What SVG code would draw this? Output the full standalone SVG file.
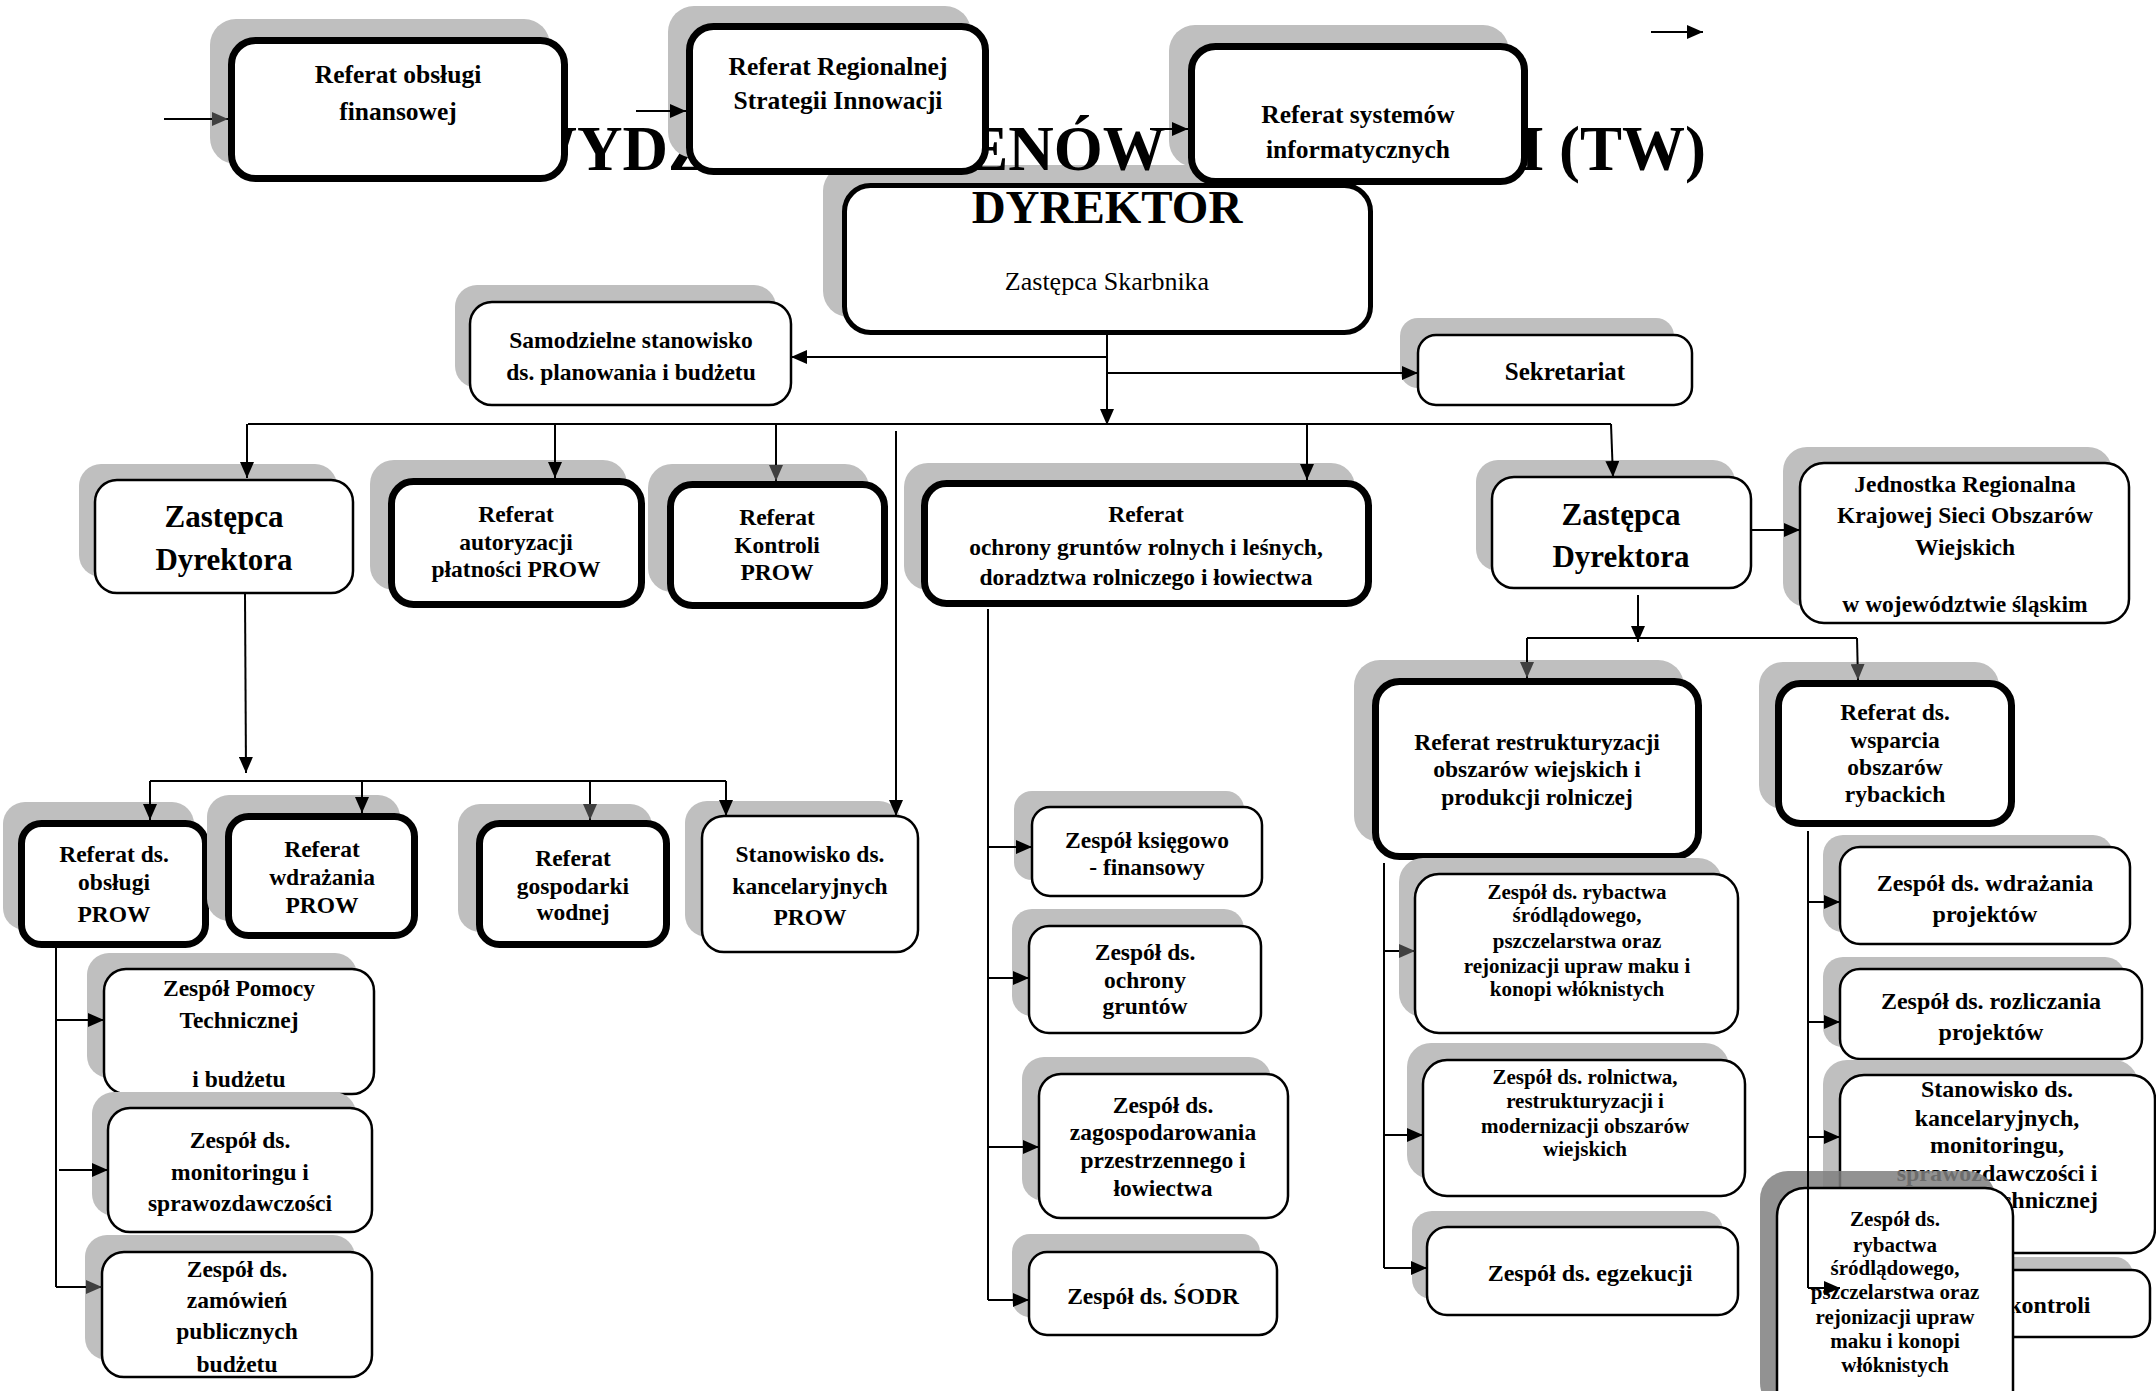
<svg xmlns="http://www.w3.org/2000/svg" width="2156" height="1391" viewBox="0 0 2156 1391">
<defs>
<style>
.sh{fill:#bfbfbf}
.sh2{fill:#7f7f7f;opacity:0.85}
.bx{fill:#fff;stroke:#000;stroke-width:2.5}
.k{stroke-width:7}
.t{font-family:"Liberation Serif","Times New Roman",serif;font-weight:bold;text-anchor:middle;fill:#000}
.n{font-weight:normal}
.c{stroke:#000;stroke-width:2;fill:none}
.ca{stroke:#000;stroke-width:2;fill:none;marker-end:url(#ah)}
.cg{stroke:#000;stroke-width:2;fill:none;marker-end:url(#ahg)}
</style>
<marker id="ah" markerUnits="userSpaceOnUse" markerWidth="16" markerHeight="14" refX="16" refY="7" orient="auto"><path d="M0,0 L16,7 L0,14 z" fill="#000"/></marker>
<marker id="ahg" markerUnits="userSpaceOnUse" markerWidth="16" markerHeight="14" refX="16" refY="7" orient="auto"><path d="M0,0 L16,7 L0,14 z" fill="#404040"/></marker>
</defs>
<rect width="2156" height="1391" fill="#fff"/>

<g id="n-dyrektor">
<rect class="sh" x="823" y="165" width="531" height="152" rx="26"/>
<rect class="bx" style="stroke-width:5" x="844.5" y="185.5" width="526" height="147" rx="26"/>
<text class="t" font-size="47"><tspan x="1107" y="223">DYREKTOR</tspan></text>
<text class="t n" font-size="26"><tspan x="1107" y="290">Zastępca Skarbnika</tspan></text>
</g>

<text id="title" class="t" font-size="63" x="1706" y="170" style="text-anchor:end">WYDZIAŁ TERENÓW WIEJSKICH (TW)</text>

<g id="n-refFin">
<rect class="sh" x="210" y="19" width="340" height="145" rx="26"/>
<rect class="bx k" x="231.5" y="40.5" width="333" height="138" rx="24"/>
<text class="t" font-size="25.5"><tspan x="398" y="83">Referat obsługi</tspan><tspan x="398" y="120">finansowej</tspan></text>
</g>
<g id="n-refRSI">
<rect class="sh" x="668" y="6" width="303" height="152" rx="26"/>
<rect class="bx k" x="689.5" y="26.5" width="296" height="145" rx="24"/>
<text class="t" font-size="25.5"><tspan x="838" y="75">Referat  Regionalnej</tspan><tspan x="838" y="109">Strategii Innowacji</tspan></text>
</g>
<g id="n-refSys">
<rect class="sh" x="1169" y="25" width="340" height="142" rx="26"/>
<rect class="bx k" x="1191.5" y="46.5" width="333" height="135" rx="24"/>
<text class="t" font-size="25.5"><tspan x="1358" y="123">Referat systemów</tspan><tspan x="1358" y="158">informatycznych</tspan></text>
</g>

<g id="n-samodz">
<rect class="sh" x="455" y="285" width="321" height="103" rx="22"/>
<rect class="bx" x="470" y="302" width="321" height="103" rx="22"/>
<text class="t" font-size="23.5"><tspan x="631" y="348">Samodzielne stanowisko</tspan><tspan x="631" y="380">ds. planowania i budżetu</tspan></text>
</g>
<g id="n-sekret">
<rect class="sh" x="1400" y="318" width="274" height="70" rx="18"/>
<rect class="bx" x="1418" y="335" width="274" height="70" rx="18"/>
<text class="t" font-size="25"><tspan x="1565" y="380">Sekretariat</tspan></text>
</g>

<g id="n-zastL">
<rect class="sh" x="79" y="464" width="258" height="113" rx="22"/>
<rect class="bx" x="95" y="480" width="258" height="113" rx="22"/>
<text class="t" font-size="31"><tspan x="224" y="527">Zastępca</tspan><tspan x="224" y="570">Dyrektora</tspan></text>
</g>
<g id="n-refAut">
<rect class="sh" x="370" y="460" width="257" height="130" rx="24"/>
<rect class="bx k" x="391.5" y="481.5" width="250" height="123" rx="22"/>
<text class="t" font-size="23.5"><tspan x="516" y="522">Referat</tspan><tspan x="516" y="550">autoryzacji</tspan><tspan x="516" y="577">płatności PROW</tspan></text>
</g>
<g id="n-refKon">
<rect class="sh" x="648" y="464" width="221" height="128" rx="24"/>
<rect class="bx k" x="670.5" y="484.5" width="214" height="121" rx="22"/>
<text class="t" font-size="23.5"><tspan x="777" y="525">Referat</tspan><tspan x="777" y="553">Kontroli</tspan><tspan x="777" y="580">PROW</tspan></text>
</g>
<g id="n-refOchr">
<rect class="sh" x="904" y="463" width="451" height="127" rx="24"/>
<rect class="bx k" x="924.5" y="483.5" width="444" height="120" rx="22"/>
<text class="t" font-size="23.5"><tspan x="1146" y="522">Referat</tspan><tspan x="1146" y="555">ochrony gruntów rolnych i leśnych,</tspan><tspan x="1146" y="585">doradztwa rolniczego i łowiectwa</tspan></text>
</g>
<g id="n-zastR">
<rect class="sh" x="1476" y="460" width="259" height="111" rx="22"/>
<rect class="bx" x="1492" y="477" width="259" height="111" rx="22"/>
<text class="t" font-size="31"><tspan x="1621" y="525">Zastępca</tspan><tspan x="1621" y="567">Dyrektora</tspan></text>
</g>
<g id="n-jedn">
<rect class="sh" x="1783" y="447" width="329" height="160" rx="24"/>
<rect class="bx" x="1800" y="463" width="329" height="160" rx="24"/>
<text class="t" font-size="23.5"><tspan x="1965" y="492">Jednostka Regionalna</tspan><tspan x="1965" y="523">Krajowej Sieci Obszarów</tspan><tspan x="1965" y="555">Wiejskich</tspan><tspan x="1965" y="612">w województwie  śląskim</tspan></text>
</g>
<g id="n-refRestr">
<rect class="sh" x="1354" y="660" width="330" height="182" rx="26"/>
<rect class="bx k" x="1375.5" y="681.5" width="323" height="175" rx="24"/>
<text class="t" font-size="23.5"><tspan x="1537" y="750">Referat restrukturyzacji</tspan><tspan x="1537" y="777">obszarów wiejskich i</tspan><tspan x="1537" y="805">produkcji  rolniczej</tspan></text>
</g>
<g id="n-refRyb">
<rect class="sh" x="1759" y="662" width="240" height="147" rx="24"/>
<rect class="bx k" x="1778.5" y="683.5" width="233" height="140" rx="22"/>
<text class="t" font-size="23.5"><tspan x="1895" y="720">Referat ds.</tspan><tspan x="1895" y="748">wsparcia</tspan><tspan x="1895" y="775">obszarów</tspan><tspan x="1895" y="802">rybackich</tspan></text>
</g>

<g id="n-refObsP">
<rect class="sh" x="3" y="802" width="191" height="128" rx="22"/>
<rect class="bx k" x="21.5" y="823.5" width="184" height="121" rx="20"/>
<text class="t" font-size="23.5"><tspan x="114" y="862">Referat ds.</tspan><tspan x="114" y="890">obsługi</tspan><tspan x="114" y="922">PROW</tspan></text>
</g>
<g id="n-refWdr">
<rect class="sh" x="207" y="795" width="193" height="126" rx="22"/>
<rect class="bx k" x="228.5" y="816.5" width="186" height="119" rx="20"/>
<text class="t" font-size="23.5"><tspan x="322" y="857">Referat</tspan><tspan x="322" y="885">wdrażania</tspan><tspan x="322" y="913">PROW</tspan></text>
</g>
<g id="n-refGosp">
<rect class="sh" x="458" y="804" width="194" height="128" rx="22"/>
<rect class="bx k" x="479.5" y="823.5" width="187" height="121" rx="20"/>
<text class="t" font-size="23.5"><tspan x="573" y="866">Referat</tspan><tspan x="573" y="894">gospodarki</tspan><tspan x="573" y="920">wodnej</tspan></text>
</g>
<g id="n-stanPROW">
<rect class="sh" x="685" y="801" width="216" height="136" rx="22"/>
<rect class="bx" x="702" y="816" width="216" height="136" rx="22"/>
<text class="t" font-size="23.5"><tspan x="810" y="862">Stanowisko ds.</tspan><tspan x="810" y="894">kancelaryjnych</tspan><tspan x="810" y="925">PROW</tspan></text>
</g>

<g id="n-zPom">
<rect class="sh" x="87" y="953" width="270" height="125" rx="22"/>
<rect class="bx" x="104" y="969" width="270" height="125" rx="22"/>
<text class="t" font-size="23.5"><tspan x="239" y="996">Zespół  Pomocy</tspan><tspan x="239" y="1028">Technicznej</tspan><tspan x="239" y="1087">i budżetu</tspan></text>
</g>
<g id="n-zMon">
<rect class="sh" x="92" y="1092" width="264" height="124" rx="22"/>
<rect class="bx" x="108" y="1108" width="264" height="124" rx="22"/>
<text class="t" font-size="23.5"><tspan x="240" y="1148">Zespół ds.</tspan><tspan x="240" y="1180">monitoringu i</tspan><tspan x="240" y="1211">sprawozdawczości</tspan></text>
</g>
<g id="n-zZam">
<rect class="sh" x="85" y="1235" width="270" height="125" rx="22"/>
<rect class="bx" x="102" y="1252" width="270" height="125" rx="22"/>
<text class="t" font-size="23.5"><tspan x="237" y="1277">Zespół  ds.</tspan><tspan x="237" y="1308">zamówień</tspan><tspan x="237" y="1339">publicznych</tspan><tspan x="237" y="1372">budżetu</tspan></text>
</g>

<g id="n-zKsi">
<rect class="sh" x="1014" y="791" width="230" height="89" rx="18"/>
<rect class="bx" x="1032" y="807" width="230" height="89" rx="18"/>
<text class="t" font-size="23.5"><tspan x="1147" y="848">Zespół księgowo</tspan><tspan x="1147" y="875">- finansowy</tspan></text>
</g>
<g id="n-zOch">
<rect class="sh" x="1012" y="909" width="232" height="107" rx="20"/>
<rect class="bx" x="1029" y="926" width="232" height="107" rx="20"/>
<text class="t" font-size="23.5"><tspan x="1145" y="960">Zespół ds.</tspan><tspan x="1145" y="988">ochrony</tspan><tspan x="1145" y="1014">gruntów</tspan></text>
</g>
<g id="n-zZag">
<rect class="sh" x="1022" y="1057" width="249" height="144" rx="22"/>
<rect class="bx" x="1039" y="1074" width="249" height="144" rx="22"/>
<text class="t" font-size="23.5"><tspan x="1163" y="1113">Zespół ds.</tspan><tspan x="1163" y="1140">zagospodarowania</tspan><tspan x="1163" y="1168">przestrzennego i</tspan><tspan x="1163" y="1196">łowiectwa</tspan></text>
</g>
<g id="n-zSodr">
<rect class="sh" x="1012" y="1234" width="248" height="83" rx="18"/>
<rect class="bx" x="1029" y="1252" width="248" height="83" rx="18"/>
<text class="t" font-size="23.5"><tspan x="1153" y="1304">Zespół ds.  ŚODR</tspan></text>
</g>

<g id="n-zRyb">
<rect class="sh" x="1399" y="858" width="323" height="159" rx="24"/>
<rect class="bx" x="1415" y="874" width="323" height="159" rx="24"/>
<text class="t" font-size="21"><tspan x="1577" y="899">Zespół ds. rybactwa</tspan><tspan x="1577" y="922">śródlądowego,</tspan><tspan x="1577" y="948">pszczelarstwa oraz</tspan><tspan x="1577" y="973">rejonizacji upraw maku i</tspan><tspan x="1577" y="996">konopi włóknistych</tspan></text>
</g>
<g id="n-zRol">
<rect class="sh" x="1407" y="1043" width="322" height="136" rx="24"/>
<rect class="bx" x="1423" y="1060" width="322" height="136" rx="24"/>
<text class="t" font-size="21"><tspan x="1585" y="1084">Zespół ds. rolnictwa,</tspan><tspan x="1585" y="1108">restrukturyzacji i</tspan><tspan x="1585" y="1133">modernizacji obszarów</tspan><tspan x="1585" y="1156">wiejskich</tspan></text>
</g>
<g id="n-zEgz">
<rect class="sh" x="1412" y="1211" width="311" height="88" rx="20"/>
<rect class="bx" x="1427" y="1227" width="311" height="88" rx="20"/>
<text class="t" font-size="24"><tspan x="1590" y="1281">Zespół ds. egzekucji</tspan></text>
</g>

<g id="n-zWdrP">
<rect class="sh" x="1823" y="835" width="290" height="97" rx="20"/>
<rect class="bx" x="1840" y="847" width="290" height="97" rx="20"/>
<text class="t" font-size="24"><tspan x="1985" y="891">Zespół ds. wdrażania</tspan><tspan x="1985" y="922">projektów</tspan></text>
</g>
<g id="n-zRozl">
<rect class="sh" x="1823" y="957" width="302" height="90" rx="20"/>
<rect class="bx" x="1840" y="969" width="302" height="90" rx="20"/>
<text class="t" font-size="24"><tspan x="1991" y="1009">Zespół ds. rozliczania</tspan><tspan x="1991" y="1040">projektów</tspan></text>
</g>
<g id="n-stanKanc">
<rect class="sh" x="1823" y="1060" width="315" height="178" rx="24"/>
<rect class="bx" x="1840" y="1075" width="315" height="178" rx="24"/>
<text class="t" font-size="24"><tspan x="1997" y="1097">Stanowisko ds.</tspan><tspan x="1997" y="1126">kancelaryjnych,</tspan><tspan x="1997" y="1153">monitoringu,</tspan><tspan x="1997" y="1181">sprawozdawczości i</tspan><tspan x="1997" y="1208">pomocy technicznej</tspan></text>
</g>
<g id="n-zKontr">
<rect class="sh" x="1823" y="1257" width="310" height="67" rx="18"/>
<rect class="bx" x="1840" y="1270" width="310" height="67" rx="18"/>
<text class="t" font-size="24"><tspan x="1995" y="1313">Zespół ds. kontroli</tspan></text>
</g>
<g id="n-zRyb2">
<rect class="sh2" x="1760" y="1171" width="236" height="240" rx="28"/>
<rect class="bx" x="1777" y="1188" width="236" height="240" rx="28"/>
<text class="t" font-size="21"><tspan x="1895" y="1226">Zespół ds.</tspan><tspan x="1895" y="1252">rybactwa</tspan><tspan x="1895" y="1275">śródlądowego,</tspan><tspan x="1895" y="1299">pszczelarstwa oraz</tspan><tspan x="1895" y="1324">rejonizacji upraw</tspan><tspan x="1895" y="1348">maku i konopi</tspan><tspan x="1895" y="1372">włóknistych</tspan></text>
</g>

<g id="connectors">
<path class="cg" d="M164,119 H228"/>
<path class="ca" d="M636,111 H686"/>
<path class="ca" d="M1150,129 H1188"/>
<path class="ca" d="M1651,32 H1703"/>
<path class="ca" d="M1107,335 V425"/>
<path class="ca" d="M1107,357 H791"/>
<path class="ca" d="M1107,373 H1418"/>
<path class="c" d="M248,424 H1611"/>
<path class="ca" d="M247,424 V478"/>
<path class="ca" d="M555,424 V478"/>
<path class="cg" d="M776,424 V481"/>
<path class="ca" d="M1307,424 V480"/>
<path class="ca" d="M1611,424 L1613,477"/>
<path class="ca" d="M896,431 V816"/>
<path class="ca" d="M245,594 L246,773"/>
<path class="c" d="M150,781 H726"/>
<path class="ca" d="M150,781 V820"/>
<path class="ca" d="M362,781 V813"/>
<path class="cg" d="M590,781 V820"/>
<path class="ca" d="M726,781 V816"/>
<path class="c" d="M56,948 V1287"/>
<path class="ca" d="M56,1020 H104"/>
<path class="ca" d="M59,1170 H108"/>
<path class="cg" d="M56,1287 H102"/>
<path class="c" d="M988,609 V1300"/>
<path class="ca" d="M988,847 H1032"/>
<path class="ca" d="M988,978 H1029"/>
<path class="ca" d="M988,1147 H1039"/>
<path class="ca" d="M988,1300 H1029"/>
<path class="ca" d="M1751,530 H1800"/>
<path class="ca" d="M1638,595 V642"/>
<path class="c" d="M1527,638 H1857"/>
<path class="cg" d="M1527,638 V678"/>
<path class="cg" d="M1857,638 L1858,680"/>
<path class="c" d="M1384,863 V1268"/>
<path class="cg" d="M1384,951 H1415"/>
<path class="ca" d="M1384,1135 H1423"/>
<path class="ca" d="M1384,1268 H1427"/>
<path class="c" d="M1808,831 V1288"/>
<path class="ca" d="M1808,902 H1840"/>
<path class="ca" d="M1808,1022 H1840"/>
<path class="ca" d="M1808,1137 H1840"/>
<path class="ca" d="M1808,1288 H1840"/>
</g>
</svg>
